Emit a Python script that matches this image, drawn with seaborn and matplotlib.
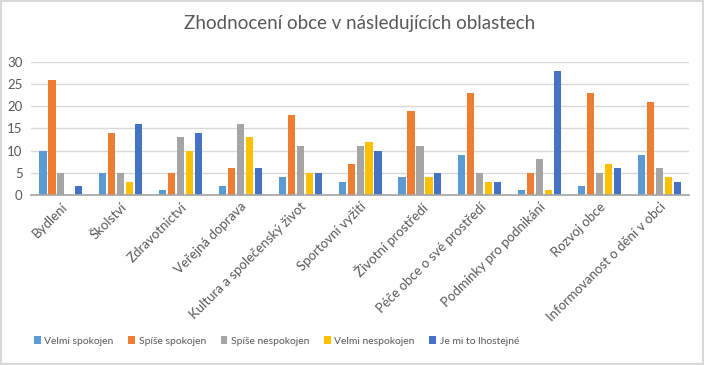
import matplotlib
matplotlib.use("Agg")
import matplotlib.pyplot as plt
import seaborn as sns
import pandas as pd

categories = ["Bydlení", "Školství", "Zdravotnictví", "Veřejná doprava",
              "Kultura a společenský život", "Sportovní vyžití", "Životní prostředí",
              "Péče obce o své prostředí", "Podmínky pro podnikání", "Rozvoj obce",
              "Informovanost o dění v obci"]
series = ["Velmi spokojen", "Spíše spokojen", "Spíše nespokojen", "Velmi nespokojen", "Je mi to lhostejné"]
velmi_spokojen = [10, 5, 1, 2, 4, 3, 4, 9, 1, 2, 9]
spise_spokojen = [26, 14, 5, 6, 18, 7, 19, 23, 5, 23, 21]
spise_nespokojen = [5, 5, 13, 16, 11, 11, 11, 5, 8, 5, 6]
velmi_nespokojen = [0, 3, 10, 13, 5, 12, 4, 3, 1, 7, 4]
lhostejne = [2, 16, 14, 6, 5, 10, 5, 3, 28, 6, 3]
colors = ["#5B9BD5", "#ED7D31", "#A5A5A5", "#FFC000", "#4472C4"]

values = [velmi_spokojen, spise_spokojen, spise_nespokojen, velmi_nespokojen, lhostejne]
rows = []
for s, vals in zip(series, values):
    for c, v in zip(categories, vals):
        rows.append({"Oblast": c, "Odpověď": s, "Počet": v})
df = pd.DataFrame(rows)

sns.set_theme(style="white")
plt.rcParams['font.family'] = ['Lato', 'DejaVu Sans']

fig = plt.figure(figsize=(7.04, 3.65), dpi=100)
fig.patch.set_edgecolor("#D9D9D9")
fig.patch.set_linewidth(1.5)
ax = fig.add_axes([0.044, 0.466, 0.935, 0.364])

sns.barplot(data=df, x="Oblast", y="Počet", hue="Odpověď", order=categories,
            hue_order=series, palette=colors, width=0.75, gap=0.2, ax=ax,
            saturation=1, legend=True, linewidth=0, edgecolor="none")

ax.set_ylim(0, 30)
ax.set_yticks(range(0, 31, 5))
ax.yaxis.grid(True, color="#D9D9D9", linewidth=1)
ax.set_axisbelow(True)
for sp in ["top", "right", "left"]:
    ax.spines[sp].set_visible(False)
ax.spines["bottom"].set_color("#A6A6A6")
ax.set_xlabel("")
ax.set_ylabel("")
ax.tick_params(axis="y", length=0, labelsize=9.5, labelcolor="#595959", pad=6)
ax.tick_params(axis="x", length=0, labelsize=9.5, labelcolor="#595959", pad=4)
plt.setp(ax.get_xticklabels(), rotation=45, ha="right", rotation_mode="anchor")
ax.set_xlim(-0.5, len(categories) - 0.5)

ax.set_title("Zhodnocení obce v následujících oblastech", fontsize=13.5,
             color="#595959", pad=24)

handles, labels = ax.get_legend_handles_labels()
ax.get_legend().remove()
leg = fig.legend(handles, labels, loc="center left", bbox_to_anchor=(0.035, 0.066), ncol=5,
                 frameon=False, fontsize=7.5,
                 labelcolor="#595959", handlelength=0.65,
                 handleheight=0.8, handletextpad=0.35, columnspacing=1.4)

fig.savefig("out.png", dpi=100)
